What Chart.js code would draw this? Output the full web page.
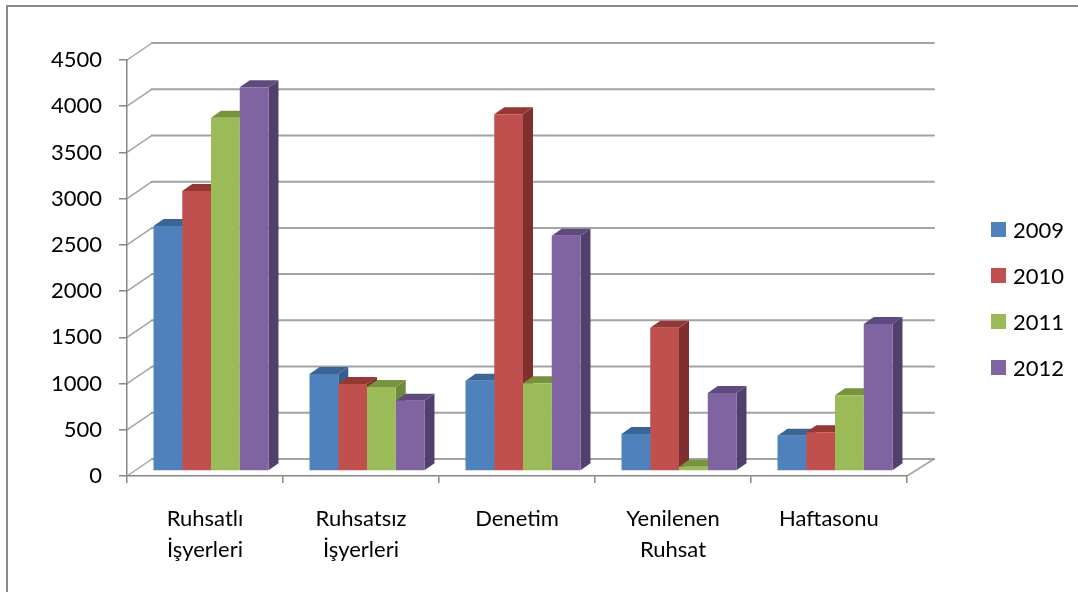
<!DOCTYPE html>
<html>
<head>
<meta charset="utf-8">
<script src="https://cdn.jsdelivr.net/npm/chart.js@4.4.1/dist/chart.umd.min.js"></script>
<style>
  html, body { margin: 0; padding: 0; background: #fff; }
  #wrap { position: relative; width: 1078px; height: 592px; overflow: hidden; }
  #frame { position: absolute; left: 6px; top: 5px; width: 1200px; height: 700px;
           border-left: 2px solid #8a8a8a; border-top: 2px solid #8a8a8a; }
  #chart { position: absolute; left: 0; top: 0; }
  #legend { position: absolute; left: 991px; top: 0; font-family: Lato, sans-serif; font-size: 22px; color: #000; }
  .item { position: absolute; left: 0; white-space: nowrap; height: 24px; line-height: 24px; }
  .item span.box { position: absolute; left: 0; top: 4px; width: 15px; height: 15px; }
  .item span.txt { position: absolute; left: 22px; top: 0; }
</style>
</head>
<body>
<div id="wrap">
  <div id="frame"></div>
  <canvas id="chart" width="1078" height="592"></canvas>
  <div id="legend"></div>
</div>
<script>
// categories and series
const categories = [['Ruhsatlı', 'İşyerleri'], ['Ruhsatsız', 'İşyerleri'], 'Denetim', ['Yenilenen', 'Ruhsat'], 'Haftasonu'];
const years = ['2009', '2010', '2011', '2012'];
const v2009 = [2650, 1050, 975, 400, 380];
const v2010 = [3030, 940, 3860, 1550, 420];
const v2011 = [3820, 910, 950, 45, 820];
const v2012 = [4150, 760, 2545, 845, 1590];
const yTicks = [0, 500, 1000, 1500, 2000, 2500, 3000, 3500, 4000, 4500];

// colours: front / side / top faces
const frontColors = ['#4F81BD', '#C0504D', '#9BBB59', '#8064A2'];
const sideColors = ['#385D8A', '#7F2F2D', '#6E8B3D', '#533F6D'];
const topColors = ['#3B6596', '#953735', '#77933C', '#5F4A7E'];

// 3d offsets
const WALL = { x: 25, y: -17 };
const SHIFT = { x: 6, y: -5 };
const DEPTH = { x: 10, y: -7 };

const pseudo3d = {
  id: 'pseudo3d',
  beforeDatasetsDraw(chart) {
    const ctx = chart.ctx;
    const area = chart.chartArea;
    const ys = chart.scales.y;
    ctx.save();
    ctx.strokeStyle = 'rgba(140,140,140,0.8)';
    ctx.lineCap = 'round';
    yTicks.forEach(v => {
      const py = ys.getPixelForValue(v);
      ctx.lineWidth = 2;
      ctx.beginPath();
      ctx.moveTo(area.left + WALL.x, py + WALL.y);
      ctx.lineTo(area.right + WALL.x + 2, py + WALL.y);
      ctx.stroke();
      ctx.lineWidth = 1.5;
      ctx.beginPath();
      ctx.moveTo(area.left, py);
      ctx.lineTo(area.left + WALL.x, py + WALL.y);
      ctx.stroke();
    });
    // right edge of floor
    ctx.beginPath();
    ctx.moveTo(area.right, area.bottom);
    ctx.lineTo(area.right + WALL.x + 2, area.bottom + WALL.y);
    ctx.stroke();
    ctx.restore();

    // bars sit a little behind the front plane
    ctx.save();
    ctx.translate(SHIFT.x, SHIFT.y);
    const bars = [];
    chart.data.datasets.forEach((ds, di) => {
      chart.getDatasetMeta(di).data.forEach(el => {
        const p = el.getProps(['x', 'y', 'base', 'width'], true);
        bars.push({ di, l: p.x - p.width / 2, r: p.x + p.width / 2, t: p.y, b: p.base });
      });
    });
    bars.forEach(o => {
      ctx.fillStyle = sideColors[o.di];
      ctx.beginPath();
      ctx.moveTo(o.r, o.t);
      ctx.lineTo(o.r + DEPTH.x, o.t + DEPTH.y);
      ctx.lineTo(o.r + DEPTH.x, o.b + DEPTH.y);
      ctx.lineTo(o.r, o.b);
      ctx.closePath();
      ctx.fill();
    });
    bars.sort((a, b) => a.l - b.l).forEach(o => {
      ctx.fillStyle = topColors[o.di];
      ctx.beginPath();
      ctx.moveTo(o.l, o.t);
      ctx.lineTo(o.l + DEPTH.x, o.t + DEPTH.y);
      ctx.lineTo(o.r + DEPTH.x, o.t + DEPTH.y);
      ctx.lineTo(o.r, o.t);
      ctx.closePath();
      ctx.fill();
    });
  },
  afterDatasetsDraw(chart) {
    chart.ctx.restore();
  }
};

const seriesValues = [v2009, v2010, v2011, v2012];

const chart = new Chart(document.getElementById('chart'), {
  type: 'bar',
  data: {
    labels: categories,
    datasets: years.map((y, i) => ({
      label: y,
      data: seriesValues[i],
      backgroundColor: frontColors[i],
      borderWidth: 0,
      barPercentage: 1,
      categoryPercentage: 0.737
    }))
  },
  options: {
    responsive: false,
    animation: false,
    devicePixelRatio: 1,
    layout: { padding: { top: 60, right: 171, bottom: 0, left: 0 } },
    plugins: {
      legend: { display: false },
      tooltip: { enabled: false }
    },
    scales: {
      x: {
        grid: { drawOnChartArea: false, tickLength: 7, color: '#868686', lineWidth: 1.5 },
        border: { color: '#868686', width: 1.5 },
        ticks: { color: '#000', font: { family: 'Lato', size: 22, lineHeight: 1.42 }, padding: 20, maxRotation: 0, autoSkip: false },
        afterFit(scale) { scale.height = 116; }
      },
      y: {
        min: 0,
        max: 4500,
        grid: { drawOnChartArea: false, tickLength: 8, color: '#868686', lineWidth: 1.5 },
        border: { color: '#868686', width: 1.5 },
        ticks: { stepSize: 500, color: '#000', font: { family: 'Lato', size: 22 }, padding: 17,
                 callback: v => String(v) },
        afterFit(scale) { scale.width = 127; }
      }
    }
  },
  plugins: [pseudo3d]
});

// legend
const legend = document.getElementById('legend');
chart.data.datasets.forEach((ds, i) => {
  const item = document.createElement('div');
  item.className = 'item';
  item.style.top = (218 + i * 46) + 'px';
  item.innerHTML = '<span class="box" style="background:' + ds.backgroundColor + '"></span><span class="txt">' + ds.label + '</span>';
  legend.appendChild(item);
});
</script>
</body>
</html>
